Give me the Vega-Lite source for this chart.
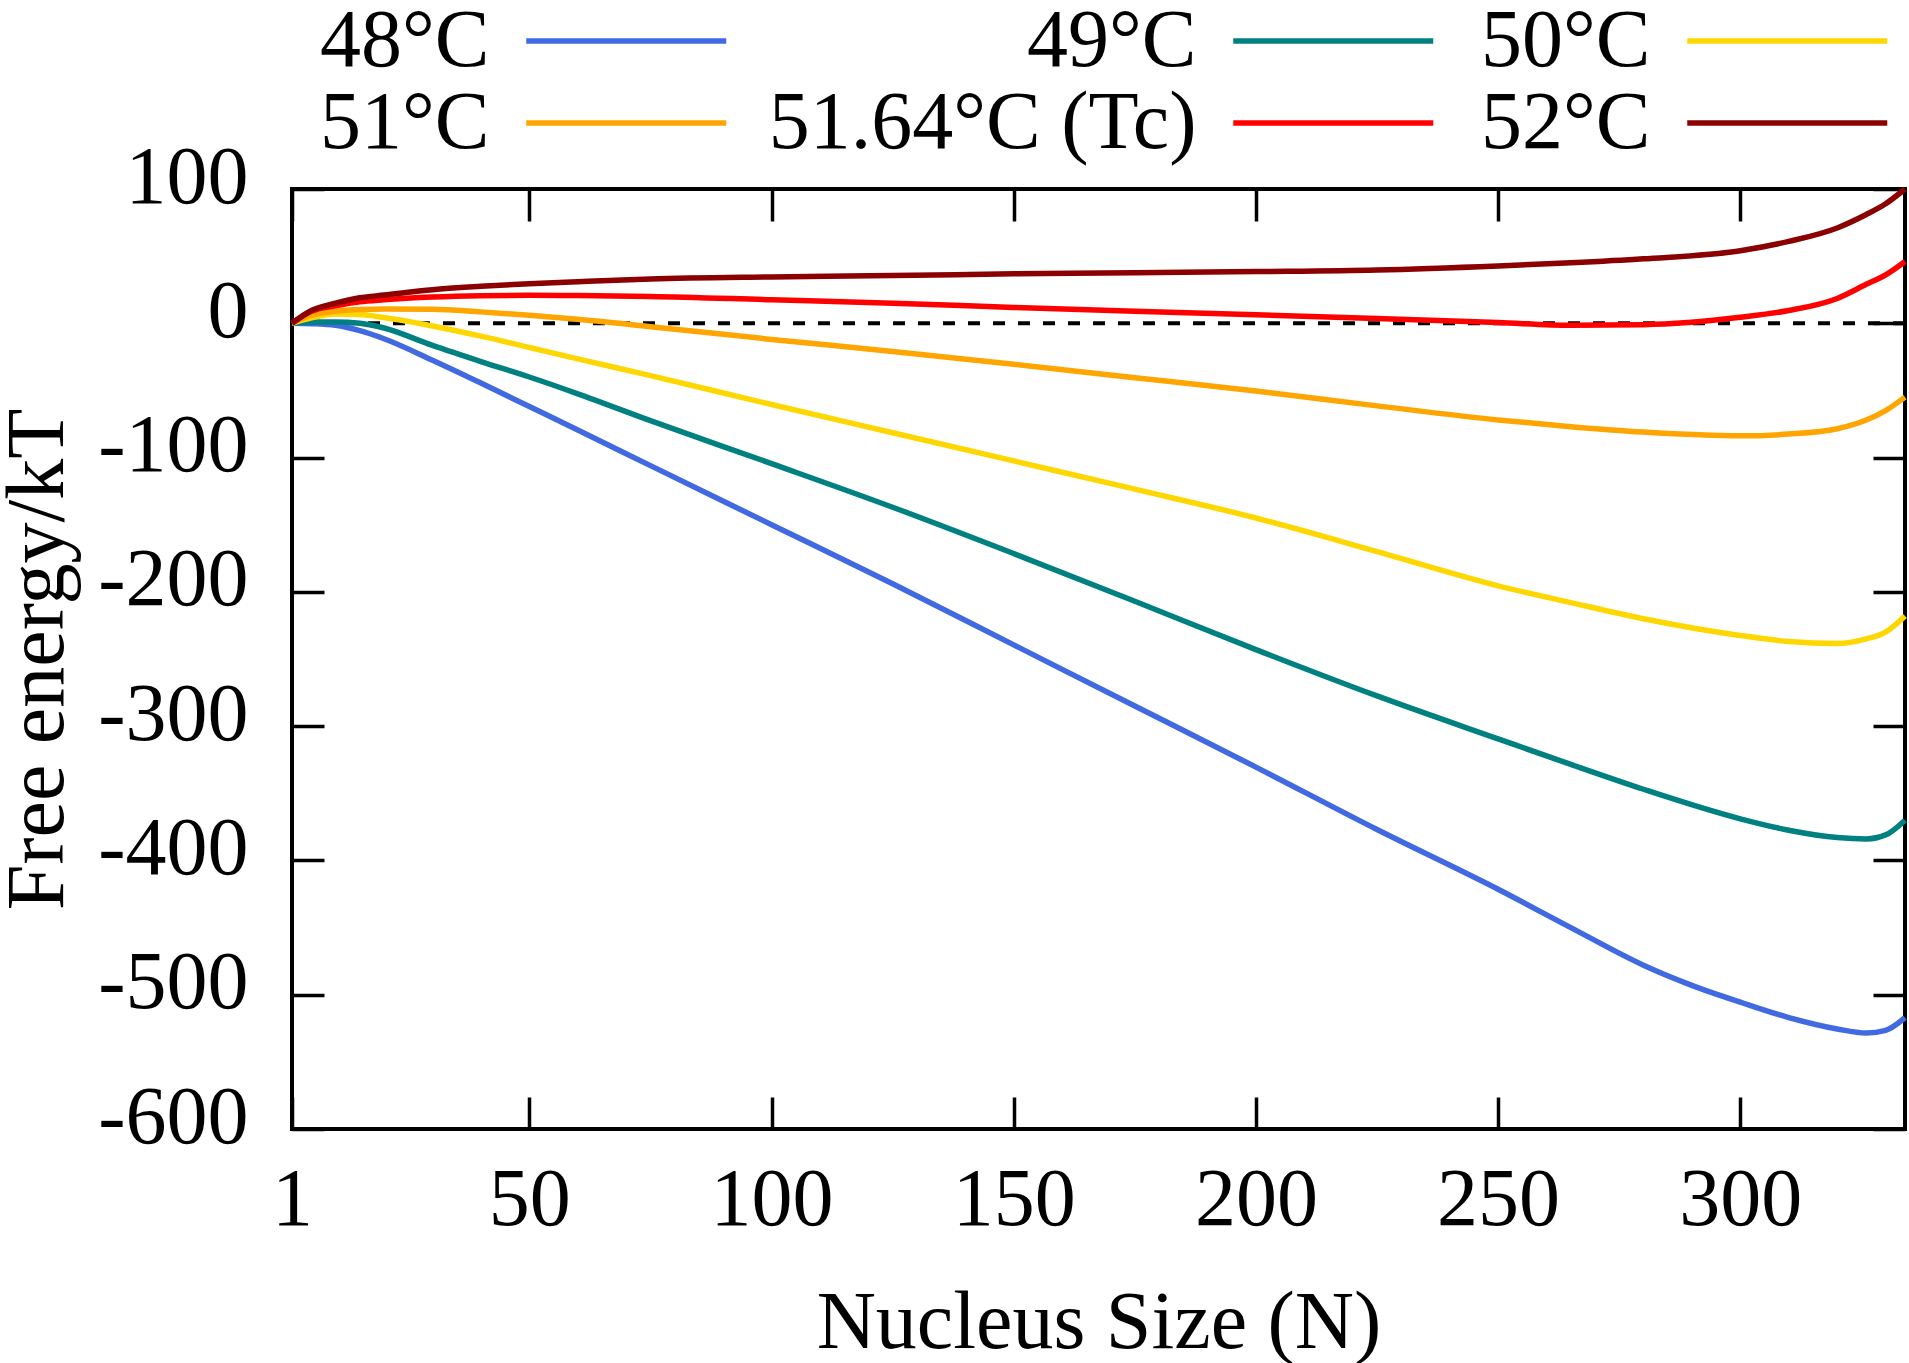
{
  "$schema": "https://vega.github.io/schema/vega-lite/v6.json",
  "width": 1613,
  "height": 940,
  "autosize": {"type": "none"},
  "padding": {"left": 292, "top": 189, "right": 4, "bottom": 234},
  "background": "white",
  "config": {
    "font": "Liberation Serif",
    "view": {"stroke": "black", "strokeWidth": 4},
    "axis": {
      "grid": false,
      "domain": false,
      "tickSize": -32,
      "tickWidth": 3.5,
      "tickColor": "black",
      "labelFont": "Liberation Serif",
      "labelFontSize": 82,
      "labelColor": "black",
      "labelFlush": false,
      "labelOverlap": false,
      "titleFont": "Liberation Serif",
      "titleFontSize": 82,
      "titleFontWeight": "normal",
      "titleColor": "black"
    }
  },
  "data": {
    "values": [
      {"T": "48°C", "N": 1, "F": 0},
      {"T": "48°C", "N": 5, "F": -0.3},
      {"T": "48°C", "N": 10, "F": -1.5},
      {"T": "48°C", "N": 15, "F": -5.5},
      {"T": "48°C", "N": 20, "F": -11.5},
      {"T": "48°C", "N": 30, "F": -27.5},
      {"T": "48°C", "N": 40, "F": -44.5},
      {"T": "48°C", "N": 50, "F": -62},
      {"T": "48°C", "N": 60, "F": -79.5},
      {"T": "48°C", "N": 75, "F": -106},
      {"T": "48°C", "N": 100, "F": -150},
      {"T": "48°C", "N": 125, "F": -194},
      {"T": "48°C", "N": 150, "F": -239.5},
      {"T": "48°C", "N": 175, "F": -285},
      {"T": "48°C", "N": 200, "F": -330.5},
      {"T": "48°C", "N": 225, "F": -377},
      {"T": "48°C", "N": 250, "F": -421.5},
      {"T": "48°C", "N": 265, "F": -450},
      {"T": "48°C", "N": 280, "F": -478},
      {"T": "48°C", "N": 290, "F": -493},
      {"T": "48°C", "N": 300, "F": -505.5},
      {"T": "48°C", "N": 310, "F": -517},
      {"T": "48°C", "N": 320, "F": -525.5},
      {"T": "48°C", "N": 326, "F": -528.5},
      {"T": "48°C", "N": 330, "F": -526.5},
      {"T": "48°C", "N": 334, "F": -517},
      {"T": "49°C", "N": 1, "F": 0},
      {"T": "49°C", "N": 5, "F": 1},
      {"T": "49°C", "N": 10, "F": 1},
      {"T": "49°C", "N": 15, "F": 0},
      {"T": "49°C", "N": 20, "F": -3.5},
      {"T": "49°C", "N": 30, "F": -16.5},
      {"T": "49°C", "N": 40, "F": -28.5},
      {"T": "49°C", "N": 50, "F": -40},
      {"T": "49°C", "N": 60, "F": -52.5},
      {"T": "49°C", "N": 75, "F": -72.5},
      {"T": "49°C", "N": 100, "F": -104.5},
      {"T": "49°C", "N": 125, "F": -137},
      {"T": "49°C", "N": 150, "F": -171.5},
      {"T": "49°C", "N": 175, "F": -207},
      {"T": "49°C", "N": 200, "F": -243},
      {"T": "49°C", "N": 225, "F": -277.5},
      {"T": "49°C", "N": 250, "F": -309.5},
      {"T": "49°C", "N": 265, "F": -328.5},
      {"T": "49°C", "N": 280, "F": -347},
      {"T": "49°C", "N": 300, "F": -369},
      {"T": "49°C", "N": 310, "F": -377.5},
      {"T": "49°C", "N": 320, "F": -383},
      {"T": "49°C", "N": 326, "F": -384},
      {"T": "49°C", "N": 330, "F": -381},
      {"T": "49°C", "N": 334, "F": -370},
      {"T": "50°C", "N": 1, "F": 0},
      {"T": "50°C", "N": 5, "F": 4},
      {"T": "50°C", "N": 10, "F": 7},
      {"T": "50°C", "N": 15, "F": 6.5},
      {"T": "50°C", "N": 20, "F": 4.3},
      {"T": "50°C", "N": 30, "F": -2},
      {"T": "50°C", "N": 40, "F": -9.6},
      {"T": "50°C", "N": 50, "F": -18},
      {"T": "50°C", "N": 60, "F": -26.5},
      {"T": "50°C", "N": 75, "F": -39},
      {"T": "50°C", "N": 100, "F": -60.5},
      {"T": "50°C", "N": 125, "F": -81.5},
      {"T": "50°C", "N": 150, "F": -102.5},
      {"T": "50°C", "N": 175, "F": -123.5},
      {"T": "50°C", "N": 200, "F": -145},
      {"T": "50°C", "N": 225, "F": -170},
      {"T": "50°C", "N": 250, "F": -195.5},
      {"T": "50°C", "N": 265, "F": -208},
      {"T": "50°C", "N": 280, "F": -220},
      {"T": "50°C", "N": 300, "F": -232.5},
      {"T": "50°C", "N": 310, "F": -237},
      {"T": "50°C", "N": 320, "F": -238.5},
      {"T": "50°C", "N": 326, "F": -235},
      {"T": "50°C", "N": 330, "F": -230},
      {"T": "50°C", "N": 334, "F": -218},
      {"T": "51°C", "N": 1, "F": 0},
      {"T": "51°C", "N": 5, "F": 6},
      {"T": "51°C", "N": 10, "F": 9},
      {"T": "51°C", "N": 15, "F": 10.3},
      {"T": "51°C", "N": 20, "F": 10.7},
      {"T": "51°C", "N": 30, "F": 10.5},
      {"T": "51°C", "N": 40, "F": 8.5},
      {"T": "51°C", "N": 50, "F": 6},
      {"T": "51°C", "N": 60, "F": 3},
      {"T": "51°C", "N": 75, "F": -2.5},
      {"T": "51°C", "N": 100, "F": -12},
      {"T": "51°C", "N": 125, "F": -21},
      {"T": "51°C", "N": 150, "F": -30.5},
      {"T": "51°C", "N": 175, "F": -40.5},
      {"T": "51°C", "N": 200, "F": -50.5},
      {"T": "51°C", "N": 225, "F": -61.5},
      {"T": "51°C", "N": 250, "F": -72},
      {"T": "51°C", "N": 265, "F": -77},
      {"T": "51°C", "N": 280, "F": -81},
      {"T": "51°C", "N": 300, "F": -83.8},
      {"T": "51°C", "N": 310, "F": -82.5},
      {"T": "51°C", "N": 320, "F": -78.5},
      {"T": "51°C", "N": 326, "F": -72},
      {"T": "51°C", "N": 330, "F": -65},
      {"T": "51°C", "N": 334, "F": -55},
      {"T": "51.64°C (Tc)", "N": 1, "F": 0},
      {"T": "51.64°C (Tc)", "N": 5, "F": 9},
      {"T": "51.64°C (Tc)", "N": 10, "F": 13},
      {"T": "51.64°C (Tc)", "N": 15, "F": 16},
      {"T": "51.64°C (Tc)", "N": 20, "F": 17.5},
      {"T": "51.64°C (Tc)", "N": 30, "F": 19.5},
      {"T": "51.64°C (Tc)", "N": 40, "F": 20.5},
      {"T": "51.64°C (Tc)", "N": 50, "F": 20.8},
      {"T": "51.64°C (Tc)", "N": 60, "F": 20.6},
      {"T": "51.64°C (Tc)", "N": 75, "F": 20},
      {"T": "51.64°C (Tc)", "N": 100, "F": 17.5},
      {"T": "51.64°C (Tc)", "N": 125, "F": 15},
      {"T": "51.64°C (Tc)", "N": 150, "F": 11.8},
      {"T": "51.64°C (Tc)", "N": 175, "F": 9},
      {"T": "51.64°C (Tc)", "N": 200, "F": 6.3},
      {"T": "51.64°C (Tc)", "N": 225, "F": 3.5},
      {"T": "51.64°C (Tc)", "N": 250, "F": 0.5},
      {"T": "51.64°C (Tc)", "N": 265, "F": -1.5},
      {"T": "51.64°C (Tc)", "N": 280, "F": -1},
      {"T": "51.64°C (Tc)", "N": 300, "F": 4.5},
      {"T": "51.64°C (Tc)", "N": 310, "F": 9.5},
      {"T": "51.64°C (Tc)", "N": 320, "F": 18.5},
      {"T": "51.64°C (Tc)", "N": 326, "F": 29},
      {"T": "51.64°C (Tc)", "N": 330, "F": 36},
      {"T": "51.64°C (Tc)", "N": 334, "F": 46},
      {"T": "52°C", "N": 1, "F": 0},
      {"T": "52°C", "N": 5, "F": 9.5},
      {"T": "52°C", "N": 10, "F": 15},
      {"T": "52°C", "N": 15, "F": 19},
      {"T": "52°C", "N": 20, "F": 21},
      {"T": "52°C", "N": 30, "F": 25},
      {"T": "52°C", "N": 40, "F": 27.5},
      {"T": "52°C", "N": 50, "F": 29.5},
      {"T": "52°C", "N": 60, "F": 31},
      {"T": "52°C", "N": 75, "F": 33},
      {"T": "52°C", "N": 100, "F": 34.5},
      {"T": "52°C", "N": 125, "F": 35.5},
      {"T": "52°C", "N": 150, "F": 36.8},
      {"T": "52°C", "N": 175, "F": 37.6},
      {"T": "52°C", "N": 200, "F": 38.5},
      {"T": "52°C", "N": 225, "F": 39.7},
      {"T": "52°C", "N": 250, "F": 42.7},
      {"T": "52°C", "N": 265, "F": 45},
      {"T": "52°C", "N": 280, "F": 48},
      {"T": "52°C", "N": 300, "F": 54},
      {"T": "52°C", "N": 310, "F": 61},
      {"T": "52°C", "N": 320, "F": 71},
      {"T": "52°C", "N": 326, "F": 81},
      {"T": "52°C", "N": 330, "F": 89},
      {"T": "52°C", "N": 334, "F": 100}
    ]
  },
  "layer": [
    {
      "data": {"values": [{"F": 0}]},
      "mark": {"type": "rule", "color": "black", "strokeWidth": 4, "strokeDash": [12, 13]},
      "encoding": {
        "y": {"field": "F", "type": "quantitative", "axis": null}
      }
    },
    {
      "mark": {"type": "line", "strokeWidth": 5.5, "interpolate": "monotone"},
      "encoding": {
        "x": {
          "field": "N",
          "type": "quantitative",
          "scale": {"domain": [1, 334], "nice": false, "zero": false},
          "axis": {
            "orient": "bottom",
            "values": [1, 50, 100, 150, 200, 250, 300],
            "labelPadding": 62,
            "title": "Nucleus Size (N)",
            "titlePadding": 42
          }
        },
        "y": {
          "field": "F",
          "type": "quantitative",
          "scale": {"domain": [-600, 100], "nice": false, "zero": false},
          "axis": {
            "orient": "left",
            "values": [-600, -500, -400, -300, -200, -100, 0, 100],
            "labelPadding": 76,
            "labelOffset": -12,
            "labelExpr": "'' + datum.value",
            "title": "Free energy/kT",
            "titlePadding": 18
          }
        },
        "color": {
          "field": "T",
          "type": "nominal",
          "scale": {
            "domain": ["48°C", "49°C", "50°C", "51°C", "51.64°C (Tc)", "52°C"],
            "range": ["#4169E1", "#008080", "#FFD700", "#FFA500", "#FF0000", "#8B0000"]
          },
          "legend": {
            "orient": "top",
            "direction": "horizontal",
            "columns": 3,
            "title": null,
            "symbolType": "M-5,0H5",
            "symbolSize": 1600,
            "symbolStrokeWidth": 5.5,
            "labelFont": "Liberation Serif",
            "labelFontSize": 82,
            "labelColor": "black",
            "labelAlign": "right",
            "labelBaseline": "middle",
            "labelOffset": -177.75,
            "symbolOffset": 271.25,
            "labelLimit": 1000,
            "columnPadding": 30,
            "rowPadding": -6,
            "padding": 22,
            "offset": -8
          }
        }
      }
    },
    {
      "mark": {"type": "point", "opacity": 0},
      "encoding": {
        "x": {
          "field": "N",
          "type": "quantitative",
          "axis": {"orient": "top", "values": [1, 50, 100, 150, 200, 250, 300], "labels": false, "title": null}
        },
        "y": {
          "field": "F",
          "type": "quantitative",
          "axis": {"orient": "right", "values": [-600, -500, -400, -300, -200, -100, 0, 100], "labels": false, "title": null}
        }
      }
    }
  ],
  "resolve": {"axis": {"x": "independent", "y": "independent"}}
}
